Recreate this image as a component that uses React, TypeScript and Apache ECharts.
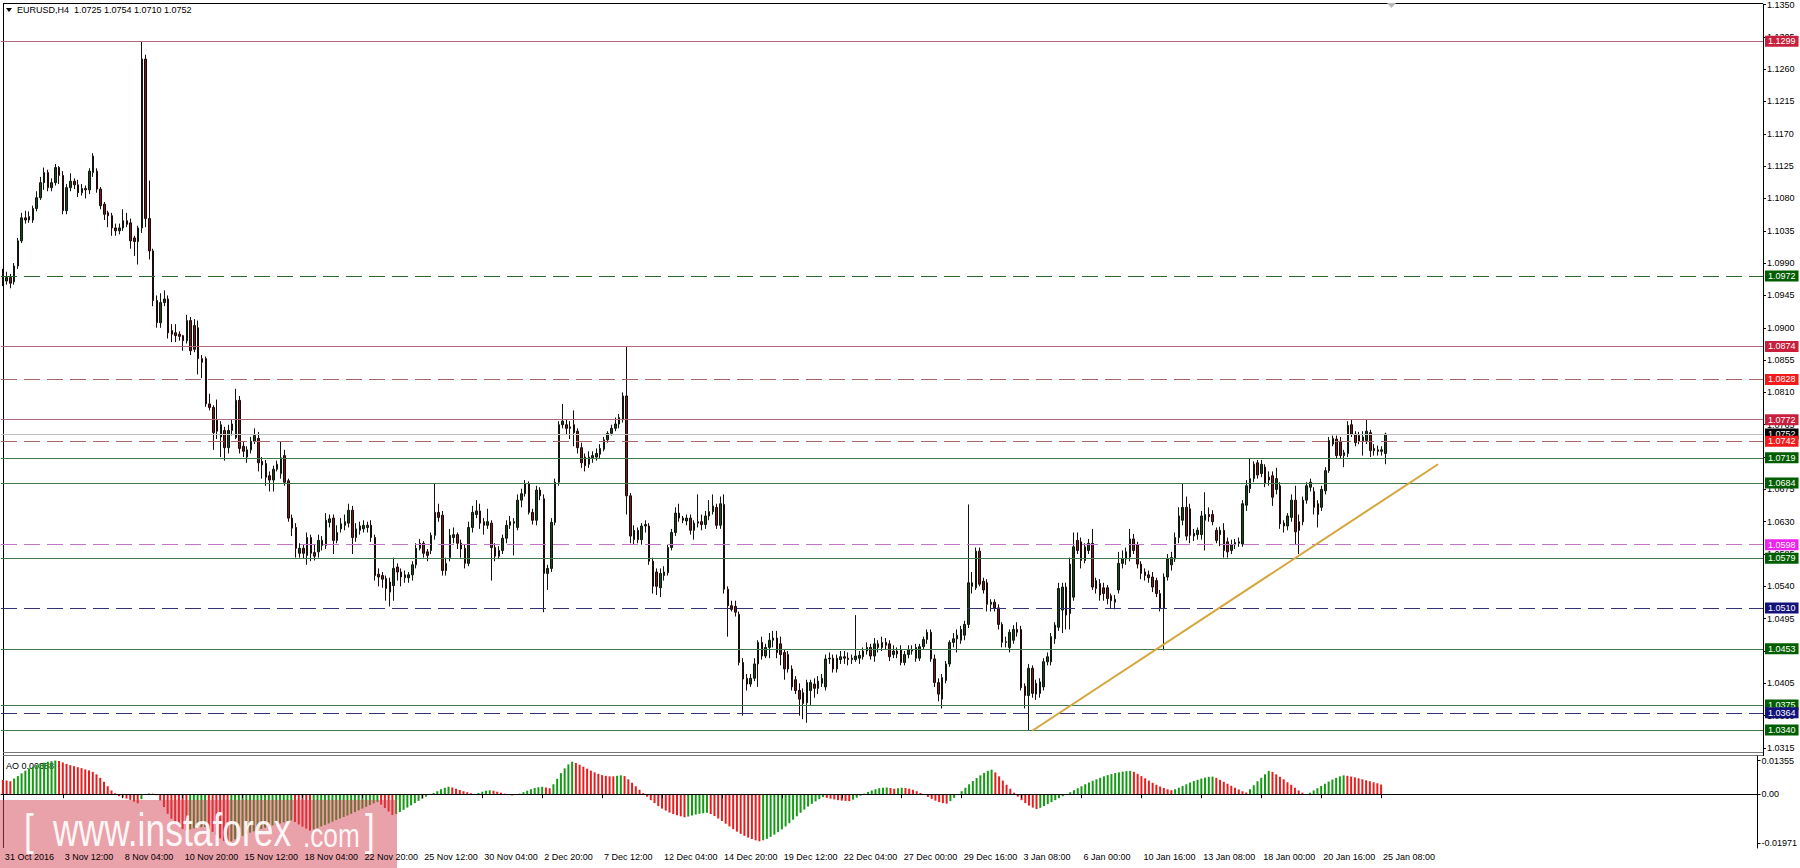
import React, { useEffect, useRef } from "react";
import * as echarts from "echarts";

// ---------- data (prices in pips above 1.0000) ----------
const SYMBOL = "EURUSD,H4";

// [open, close, low, high]
const candlesA = [
  [975,965,958,982],[965,970,960,978],[970,962,955,975],[964,986,960,990],[986,1021,982,1025],
  [1021,1053,1018,1060],[1053,1050,1045,1063],[1050,1055,1046,1062],[1050,1066,1046,1070],[1066,1081,1062,1090],
  [1081,1102,1078,1110],[1102,1116,1092,1123],[1116,1095,1090,1120],[1095,1102,1090,1108],[1102,1123,1098,1128],
  [1123,1112,1100,1125],[1112,1063,1058,1118],[1063,1095,1058,1100],[1095,1104,1090,1115],[1104,1099,1093,1108],
  [1099,1088,1082,1106],[1088,1094,1084,1100],[1094,1092,1080,1098],[1092,1118,1086,1122],[1116,1139,1110,1143],
  [1118,1093,1088,1122],[1093,1070,1065,1096],[1072,1058,1050,1075],[1060,1056,1040,1063],[1056,1039,1028,1060],
  [1039,1035,1028,1045],[1035,1039,1030,1045],[1039,1049,1035,1065],[1049,1044,1040,1060],[1046,1021,1010,1052],
  [1025,1020,1000,1028],[1020,1039,988,1042],[1039,1274,1032,1298],[1274,1052,1040,1280],[1052,1007,995,1105],
  [1007,938,930,1010],[938,907,900,945],[907,935,900,948],[935,940,930,952],[940,893,885,945],
  [896,891,880,905],[893,889,880,905],[891,888,882,895],[889,882,868,890],[882,910,878,918],
  [910,868,862,915],[903,870,866,912],[900,857,835,910],[857,852,830,862],[857,794,790,860],
  [794,789,785,808],[789,754,730,792],[772,756,745,800],[748,765,720,770],[757,733,715,762],
  [733,757,725,765],[757,766,750,772],[747,799,745,815],[799,732,725,805],[735,728,720,742],
  [720,730,712,735],[730,742,725,748],[742,750,738,760],[746,712,700,755],[714,709,690,720],
  [711,692,680,716],[694,688,672,700],[688,703,672,708],[703,710,700,715],[697,719,690,742],
  [722,685,680,730],[687,635,630,690],[635,621,610,640],[622,593,580,628],[586,593,580,600],
  [593,586,578,598],[583,608,570,615],[608,586,575,612],[587,582,576,598],[588,604,580,612],
  [597,604,590,610],[597,632,592,642],[629,634,622,640],[635,604,585,640],[604,615,600,625],
  [620,627,615,635],[625,630,618,640],[628,646,622,655],[646,608,585,652],[608,620,602,628],
  [618,624,612,630],[620,625,615,632],[622,625,615,630],[625,608,602,632],[608,555,548,612],
];
const candlesB = [
  [557,553,540,565],[555,550,538,560],[551,537,520,555],[546,532,512,552],[541,565,520,580],
  [567,560,548,572],[560,553,540,565],[552,556,545,562],[552,556,545,560],[556,570,548,575],
  [570,593,565,600],[593,600,590,606],[600,586,580,603],[588,583,575,592],[590,611,585,615],
  [611,643,605,683],[643,636,630,655],[639,562,555,645],[562,572,555,580],[580,611,575,620],
  [608,612,600,622],[612,600,592,615],[600,592,580,605],[593,572,565,598],[572,622,568,630],
  [622,643,615,652],[640,645,635,660],[645,628,620,655],[630,625,612,635],[625,630,620,648],
  [628,594,548,632],[594,582,575,600],[582,590,578,596],[590,607,585,612],[607,625,600,632],
  [625,630,620,638],[628,630,583,635],[622,660,618,668],[660,669,650,676],[669,683,665,688],
  [683,643,640,686],[643,632,626,648],[632,674,625,680],[674,666,660,678],[662,558,504,668],
  [558,565,535,570],[565,629,560,635],[629,685,625,690],[685,765,680,770],[765,770,760,794],
  [765,760,752,772],[760,762,745,770],[765,754,735,785],[756,733,725,760],[733,712,705,740],
  [720,708,700,725],[710,720,705,728],[719,722,712,728],[720,725,715,732],[724,732,718,738],
  [731,744,728,748],[744,753,740,756],[753,760,750,765],[760,766,756,775],[766,775,760,780],
  [772,805,768,810],[805,666,640,874],[666,610,600,670],[605,618,598,625],[618,605,600,622],
  [605,624,598,628],[624,626,615,632],[624,575,570,628],[575,540,530,580],[560,540,528,565],
  [538,558,525,565],[555,560,548,568],[559,594,555,598],[594,615,590,620],[615,642,610,650],
  [642,635,630,655],[635,632,628,638],[631,635,625,640],[635,618,612,640],[618,628,605,632],
  [628,630,622,668],[630,626,618,640],[626,638,620,645],[638,644,632,660],[644,652,640,668],
  [650,625,620,655],[625,655,620,665],[654,536,530,668],[536,513,470,540],[513,508,505,520],
  [512,504,498,520],[501,434,430,505],[434,411,360,440],[412,404,395,418],[404,412,400,418],
];
const candlesC = [
  [412,432,408,440],[432,462,400,465],[462,443,438,470],[443,455,440,460],[455,465,440,475],
  [465,468,455,478],[468,448,440,478],[460,445,430,470],[448,425,410,452],[445,425,420,450],
  [425,400,395,430],[410,395,390,415],[395,383,360,405],[392,377,355,398],[378,406,350,410],
  [395,406,375,410],[404,398,385,412],[398,408,390,415],[405,412,400,418],[400,439,395,445],
  [439,440,432,448],[440,425,420,445],[425,440,420,445],[438,442,432,450],[442,440,432,450],
  [440,438,430,448],[438,440,432,445],[438,443,435,500],[440,444,432,450],[442,450,438,455],
  [450,455,445,462],[455,443,438,460],[443,460,435,468],[460,455,448,465],[455,462,450,470],
  [462,458,452,468],[460,442,436,465],[445,450,440,458],[450,446,440,455],[452,434,430,458],
  [434,445,430,450],[445,452,440,458],[450,452,445,458],[440,455,435,460],[440,456,436,460],
  [456,466,452,470],[466,476,460,480],[476,439,435,480],[439,406,400,445],[406,390,380,412],
  [383,413,370,418],[409,432,405,436],[432,462,428,465],[462,467,455,475],[467,472,448,480],
  [465,480,460,485],[472,487,465,492],[487,545,482,654],[545,540,530,560],[538,589,535,594],
  [589,543,540,594],[547,535,530,552],[545,515,505,550],[515,518,505,522],[518,510,505,522],
  [510,487,480,515],[487,462,455,490],[463,462,455,470],[455,476,448,480],[465,480,460,486],
  [480,476,470,490],[480,399,395,485],[401,388,370,405],[388,426,339,432],[426,391,385,430],
  [405,390,382,410],[391,407,385,412],[400,435,395,440],[435,442,430,448],[435,470,430,475],
  [467,486,460,490],[483,537,478,545],[507,539,475,545],[539,500,480,545],[502,571,480,580],
  [525,595,520,615],[604,590,585,615],[602,576,565,608],[576,595,572,600],[590,600,585,606],
  [600,539,535,620],[548,537,530,552],[544,528,520,550],[538,530,520,545],[538,523,515,542],
  [527,520,510,530],[518,522,508,528],[535,572,530,588],[572,578,565,590],[578,588,570,594],
];
const candlesD = [
  [581,606,575,620],[606,590,585,613],[598,571,565,602],[571,558,550,575],[560,555,548,565],
  [556,552,545,562],[553,539,532,560],[548,530,525,552],[530,509,505,535],[509,553,451,558],
  [553,578,548,585],[570,580,562,588],[578,608,574,615],[608,638,600,650],[632,650,625,683],
  [650,610,604,665],[648,611,600,655],[610,614,603,620],[612,618,605,622],[612,638,605,645],
  [632,640,590,671],[640,637,630,650],[640,630,625,646],[618,604,600,622],[612,618,596,623],
  [618,590,580,628],[602,588,580,608],[590,598,585,605],[598,601,592,606],[600,602,595,608],
  [599,655,595,660],[653,680,645,688],[676,690,670,718],[690,710,685,714],[712,695,690,716],
  [697,710,692,716],[706,683,678,710],[692,688,680,700],[694,664,652,700],[675,690,668,705],
  [680,627,620,685],[628,624,615,632],[624,638,618,642],[636,660,630,668],[660,616,598,680],
  [630,618,585,640],[630,660,625,665],[660,680,655,685],[678,685,672,690],[672,650,640,678],
  [655,640,622,660],[650,675,645,680],[673,701,668,706],[701,743,698,748],[738,746,735,750],
  [745,722,718,750],[742,722,718,748],[722,726,706,730],[725,764,720,770],[765,752,748,772],
  [752,740,735,756],[750,742,738,755],[742,748,722,756],[743,756,738,773],[754,729,720,758],
  [732,729,722,738],[730,728,722,736],[728,730,722,735],[725,752,710,754],
];

// Awesome Oscillator, in units of 0.0001
const aoA = [
  57,55,52,63,73,84,95,104,111,118,122,127,131,133,135.5,
  134,128,122,117,113,109,105,100,96,90,80,66,50,32,
  15,4,-8,-13,-18,-23,-30,-37,-20,-2,3,2,
  -4,-25,-52,-79,-99,-120,-133,-140,-147,
  -142,-138,-135,-133,-132,-140,-152,-165,-178,-188,-197.1,
  -190,-182,-175,-168,-161,-155,-150,-145,-140,-135,-130,-126,-122,-118,-114,-110,-106,
  -112,-122,-131,-139,-147,
  -142,-136,-130,-124,-118,-111,-104,-98,-92,-86,-79,-72,-65,-58,-51,-44,-37,
];
const aoB = [
  -31,-42,-56,-70,-84,-80,-72,-63,-54,-45,-36,-27,-18,-10,-2,5,12,20,26,30,
  27,22,17,12,8,4,1,5,10,14,16,14,10,6,2,-2,-5,-3,2,8,
  14,20,25,28,30,27,24,40,62,85,104,120,131,
  126,119,111,103,95,88,82,77,74,72,72,74,76,73,
  60,46,32,18,4,-10,-24,-36,-48,-58,-66,-74,-80,-85,-89,-93,
  -90,-86,-82,-79,-77,-75,
  -80,-88,-98,-108,-119,-130,-141,-151,-160,-168,-175,
];
const aoC = [
  -181,-186,-190,
  -186,-180,-172,-163,-153,-142,-130,-117,-103,-89,-75,-62,-50,-39,-29,-20,
  -12,-15,-18,-21,-24,-26,-27,-28,
  -22,-14,-6,2,9,15,20,24,26,27,25,22,24,26,25,22,18,
  12,5,-3,-11,-19,-26,-32,-36,-38,
  -28,-15,-2,12,26,40,53,65,76,86,94,99,
  88,72,55,38,22,6,-10,-24,-36,-46,-54,-60,
  -55,-48,-40,-32,-24,-16,-8,0,8,16,24,32,40,47,54,60,66,72,77,81,85,88,91,
];
const aoD = [
  93,94,
  90,82,73,64,55,46,38,31,25,20,16,
  20,26,33,40,47,53,58,63,67,70,71,
  66,58,50,42,34,26,19,12,7,
  20,36,52,66,80,94,
  90,80,70,60,48,38,26,15,6,-2,
  6,15,24,33,42,51,59,66,72,76,
  74,71,68,64,60,56,52,48,44,38.8,
];

const timeLabels = [
  "31 Oct 2016","3 Nov 12:00","8 Nov 04:00","10 Nov 20:00","15 Nov 12:00","18 Nov 04:00",
  "22 Nov 20:00","25 Nov 12:00","30 Nov 04:00","2 Dec 20:00","7 Dec 12:00","12 Dec 04:00",
  "14 Dec 20:00","19 Dec 12:00","22 Dec 04:00","27 Dec 00:00","29 Dec 16:00","3 Jan 08:00",
  "6 Jan 00:00","10 Jan 16:00","13 Jan 08:00","18 Jan 00:00","20 Jan 16:00","25 Jan 08:00",
];
const BARS_PER_LABEL = 16;

const priceTicks = [
  1.0315,1.0360,1.0405,1.0450,1.0495,1.0540,1.0585,1.0630,1.0675,1.0720,1.0765,1.0810,
  1.0855,1.0900,1.0945,1.0990,1.1035,1.1080,1.1125,1.1170,1.1215,1.1260,1.1305,1.1350,
];

const levelPrices = [1.1299,1.0972,1.0874,1.0828,1.0772,1.0752,1.0742,1.0719,1.0684,1.0598,1.0579,1.0510,1.0453,1.0375,1.0364,1.0340];
const levelKinds = ["res","supDash","res","resDash","res","price","resDash","sup","sup","pivot","sup","navy","sup","sup","navy","sup"];

// trend line: [bar index, price]
const trendLine = [[274, 1.0339],[382, 1.0710]];

// ---------- styles ----------
const FONT = "'Liberation Sans', Arial, sans-serif";
const LEVEL_STYLE: Record<string, { line: string; dash: boolean; box: string }> = {
  res: { line: "#b0687a", dash: false, box: "#c8203c" },
  resDash: { line: "#a86868", dash: true, box: "#f21a1a" },
  supDash: { line: "#2c662c", dash: true, box: "#005e00" },
  sup: { line: "#44774a", dash: false, box: "#005e00" },
  pivot: { line: "#c274c8", dash: true, box: "#ee22ee" },
  navy: { line: "#323274", dash: true, box: "#12127a" },
  price: { line: "#c0c0c0", dash: false, box: "#000000" },
};
const AO_UP = "#159a15";
const AO_DOWN = "#e81c1c";
const SLOTS = 469;
const PRICE_MIN = 1.03094;
const PRICE_MAX = 1.13504;
const AO_MIN = -0.0217;
const AO_MAX = 0.0154;

function buildOption() {
  const candles = [...candlesA, ...candlesB, ...candlesC, ...candlesD];
  const ao = [...aoA, ...aoB, ...aoC, ...aoD];
  const px = (p: number) => 1 + p / 10000;
  const cats = Array.from({ length: SLOTS }, (_, i) => String(i));
  const candleData = candles.map(([o, c, l, h]) => [px(o), px(c), px(l), px(h)]);
  const aoData = ao.map((v, i) => ({
    value: v / 10000,
    itemStyle: { color: i > 0 && v > ao[i - 1] ? AO_UP : AO_DOWN },
  }));
  const aoMax = Math.max(...ao) / 10000;
  const aoMin = Math.min(...ao) / 10000;
  const last = candles[candles.length - 1];
  const f4 = (p: number) => px(p).toFixed(4);
  const header = `${SYMBOL}  ${f4(last[0])} ${f4(last[3])} ${f4(last[2])} ${f4(last[1])}`;
  const aoHeader = `AO ${(ao[ao.length - 1] / 10000).toFixed(5)}`;

  const isLabelIdx = (idx: number) =>
    idx % BARS_PER_LABEL === 0 && idx / BARS_PER_LABEL < timeLabels.length;

  const levelLines = levelPrices.map((p, k) => {
    const s = LEVEL_STYLE[levelKinds[k]];
    return {
      yAxis: p,
      lineStyle: { color: s.line, type: s.dash ? [16, 7] : "solid", width: 1 },
      label: {
        show: true,
        position: "end",
        distance: 2,
        formatter: p.toFixed(4),
        color: "#ffffff",
        backgroundColor: s.box,
        padding: [1, 3, 0, 3],
        fontSize: 9,
        lineHeight: 10,
        fontFamily: FONT,
      },
    };
  });

  const txt = (x: number, y: number, text: string, extra: any = {}) => ({
    type: "text",
    x,
    y,
    silent: true,
    ...extra,
    style: { text, fill: "#000", fontSize: 9, fontFamily: FONT, verticalAlign: "middle", ...(extra.style || {}) },
  });
  const wm = "rgba(255,255,255,0.92)";

  return {
    animation: false,
    backgroundColor: "#ffffff",
    grid: [
      { left: 1, right: 37, top: 3, height: 749 },
      { left: 1, right: 37, top: 756, height: 92 },
    ],
    xAxis: [
      {
        type: "category", gridIndex: 0, data: cats, boundaryGap: true,
        axisLine: { show: false }, axisTick: { show: false }, axisLabel: { show: false }, splitLine: { show: false },
      },
      {
        type: "category", gridIndex: 1, data: cats, boundaryGap: true, z: 20,
        axisLine: { show: true, lineStyle: { color: "#000", width: 1 } },
        axisTick: { show: true, alignWithLabel: true, interval: (i: number) => isLabelIdx(i), length: 4, lineStyle: { color: "#000" } },
        axisLabel: {
          interval: (i: number) => isLabelIdx(i),
          formatter: (_v: string, i: number) => timeLabels[i / BARS_PER_LABEL] || "",
          align: "left", margin: 4, fontSize: 9, color: "#000", fontFamily: FONT, padding: [0, 0, 0, 2],
        },
        splitLine: { show: false },
      },
    ],
    yAxis: [
      {
        type: "value", gridIndex: 0, position: "right", min: PRICE_MIN, max: PRICE_MAX,
        axisLine: { show: true, lineStyle: { color: "#000" } },
        axisTick: { show: true, customValues: priceTicks, length: 3, lineStyle: { color: "#000" } },
        axisLabel: { customValues: priceTicks, formatter: (v: number) => v.toFixed(4), fontSize: 9, color: "#000", margin: 4, fontFamily: FONT },
        splitLine: { show: false },
      },
      {
        type: "value", gridIndex: 1, position: "right", min: AO_MIN, max: AO_MAX,
        axisLine: { show: true, lineStyle: { color: "#000" } },
        axisTick: { show: true, customValues: [aoMax, 0, aoMin], length: 3, lineStyle: { color: "#000" } },
        axisLabel: {
          customValues: [aoMax, 0, aoMin],
          formatter: (v: number) => (v === 0 ? "0.00" : v.toFixed(5)),
          fontSize: 9, color: "#000", margin: 4, fontFamily: FONT,
        },
        splitLine: { show: false },
      },
    ],
    series: [
      {
        type: "line", xAxisIndex: 0, yAxisIndex: 0, data: cats.map(() => null), showSymbol: false, silent: true, z: 1,
        markLine: { symbol: ["none", "none"], precision: 5, silent: true, animation: false, data: levelLines },
      },
      {
        type: "candlestick", xAxisIndex: 0, yAxisIndex: 0, data: candleData, barWidth: 2, z: 3, silent: true,
        itemStyle: { color: "#1f421f", color0: "#6a1f1f", borderColor: "#0e160e", borderColor0: "#1c0a0a", borderWidth: 1 },
      },
      {
        type: "line", xAxisIndex: 0, yAxisIndex: 0, data: cats.map(() => null), showSymbol: false, silent: true, z: 4,
        markLine: {
          symbol: ["none", "none"], precision: 5, silent: true, animation: false,
          label: { show: false },
          lineStyle: { color: "#d4a63c", width: 2, type: "solid" },
          data: [[{ coord: [trendLine[0][0], trendLine[0][1]] }, { coord: [trendLine[1][0], trendLine[1][1]] }]],
        },
      },
      {
        type: "bar", xAxisIndex: 1, yAxisIndex: 1, data: aoData, barWidth: 2, silent: true, z: 3,
      },
    ],
    graphic: {
      elements: [
        { type: "line", silent: true, shape: { x1: 3, y1: 3.5, x2: 1763, y2: 3.5 }, style: { stroke: "#000", lineWidth: 1 } },
        { type: "line", silent: true, shape: { x1: 3.5, y1: 3, x2: 3.5, y2: 848 }, style: { stroke: "#000", lineWidth: 1 } },
        { type: "line", silent: true, shape: { x1: 3, y1: 752.5, x2: 1763, y2: 752.5 }, style: { stroke: "#777", lineWidth: 1 } },
        { type: "line", silent: true, shape: { x1: 3, y1: 755.5, x2: 1763, y2: 755.5 }, style: { stroke: "#777", lineWidth: 1 } },
        { type: "line", silent: true, shape: { x1: 1763.5, y1: 752, x2: 1763.5, y2: 756 }, style: { stroke: "#000", lineWidth: 1 } },
        { type: "polygon", silent: true, shape: { points: [[6, 8], [12, 8], [9, 12]] }, style: { fill: "#000" } },
        txt(17, 10, header),
        txt(6, 766, aoHeader),
        { type: "polygon", silent: true, shape: { points: [[1387, 3], [1396, 3], [1391.5, 8]] }, style: { fill: "#b8b8b8" } },
        { type: "rect", silent: true, z: 10, shape: { x: 0, y: 800, width: 397, height: 68 }, style: { fill: "rgba(214,70,85,0.5)" } },
        txt(24, 830, "[", { z: 11, scaleX: 0.8, style: { fontSize: 44, fill: wm } }),
        txt(53, 830, "www.instaforex", { z: 11, scaleX: 0.77, style: { fontSize: 46, fill: wm } }),
        txt(303, 835, ".com", { z: 11, scaleX: 0.77, style: { fontSize: 34, fill: wm } }),
        txt(365, 830, "]", { z: 11, scaleX: 0.8, style: { fontSize: 44, fill: wm } }),
      ],
    },
  };
}

export default function App() {
  const ref = useRef<HTMLDivElement>(null);
  useEffect(() => {
    document.body.style.margin = "0";
    if (!ref.current) return;
    const chart = echarts.init(ref.current, null, { renderer: "svg" });
    chart.setOption(buildOption() as any);
    return () => chart.dispose();
  }, []);
  return <div ref={ref} style={{ width: 1800, height: 868, background: "#fff" }} />;
}
